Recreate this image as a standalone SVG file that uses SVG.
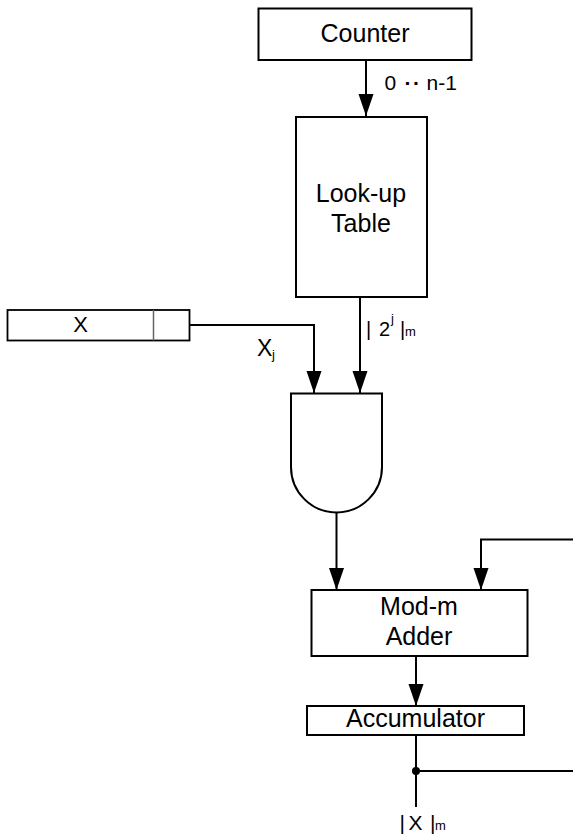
<svg xmlns="http://www.w3.org/2000/svg" width="573" height="835" viewBox="0 0 573 835">
  <style>
    .box { fill: #fff; stroke: #000; stroke-width: 2; }
    .wire { fill: none; stroke: #000; stroke-width: 2; }
    .lbl { font-family: "Liberation Sans", Arial, sans-serif; fill: #000; }
    .big { font-size: 25px; text-anchor: middle; }
  </style>
  <defs>
    <marker id="arrow" markerUnits="userSpaceOnUse" markerWidth="22" markerHeight="16" refX="22" refY="7.5" orient="auto">
      <path d="M0,0 L22,7.5 L0,15 Z" fill="#000"/>
    </marker>
  </defs>

  <rect width="573" height="835" fill="#fff"/>

  <!-- connectors -->
  <g id="connectors">
    <line class="wire" x1="366" y1="60" x2="366" y2="116" marker-end="url(#arrow)"/>
    <path class="wire" d="M173,325 H314 V393" marker-end="url(#arrow)"/>
    <line class="wire" x1="360" y1="297" x2="360" y2="393" marker-end="url(#arrow)"/>
    <line class="wire" x1="336.5" y1="513" x2="336.5" y2="590" marker-end="url(#arrow)"/>
    <path class="wire" d="M574,539.5 H481 V590" marker-end="url(#arrow)"/>
    <line class="wire" x1="416" y1="656" x2="416" y2="706" marker-end="url(#arrow)"/>
    <line class="wire" x1="416" y1="735" x2="416" y2="807"/>
    <line class="wire" x1="416" y1="771" x2="574" y2="771"/>
    <circle cx="416" cy="771" r="4" fill="#000"/>
  </g>

  <!-- counter -->
  <g id="counter">
    <rect class="box" x="258.5" y="8.5" width="213" height="51.5"/>
    <text class="lbl big" x="365" y="42">Counter</text>
  </g>

  <!-- index range label -->
  <g id="range-label">
    <text class="lbl" font-size="21" y="90"><tspan x="384.5">0</tspan><tspan x="404.5" font-weight="bold">·</tspan><tspan x="413" font-weight="bold">·</tspan><tspan x="426.5">n-1</tspan></text>
  </g>

  <!-- look-up table -->
  <g id="lut">
    <rect class="box" x="296" y="117" width="131" height="180"/>
    <text class="lbl big" x="361" y="202">Look-up</text>
    <text class="lbl big" x="361" y="232">Table</text>
  </g>

  <!-- LUT output label -->
  <g id="lut-label">
    <text class="lbl" font-size="20" y="336"><tspan x="366">|</tspan><tspan x="379">2</tspan><tspan x="391" y="323" font-size="13">j</tspan><tspan x="400" y="336">|</tspan><tspan x="405" font-size="13">m</tspan></text>
  </g>

  <!-- X register -->
  <g id="x-register">
    <rect x="7.5" y="310" width="182" height="30.5" fill="#fff" stroke="#000" stroke-width="1.8"/>
    <line x1="153.5" y1="310" x2="153.5" y2="340.5" stroke="#666" stroke-width="1.5"/>
    <text class="lbl" font-size="22" x="80.5" y="332" text-anchor="middle">X</text>
  </g>

  <!-- bit label -->
  <g id="bit-label">
    <text class="lbl" font-size="23" y="356"><tspan x="257">X</tspan><tspan x="272" y="358.5" font-size="13">j</tspan></text>
  </g>

  <!-- AND gate -->
  <g id="and-gate">
    <path class="box" d="M291,393.5 H382 V467 A45.5,45.5 0 0 1 291,467 Z"/>
  </g>

  <!-- mod-m adder -->
  <g id="adder">
    <rect class="box" x="311.5" y="590" width="216" height="66"/>
    <text class="lbl big" x="419" y="615">Mod-m</text>
    <text class="lbl big" x="419" y="645">Adder</text>
  </g>

  <!-- accumulator -->
  <g id="accumulator">
    <rect class="box" x="307" y="706" width="217" height="29"/>
    <text class="lbl big" x="415.5" y="727">Accumulator</text>
  </g>

  <!-- result label -->
  <g id="result-label">
    <text class="lbl" font-size="21" y="829.5"><tspan x="399.5">|</tspan><tspan x="408.5">X</tspan><tspan x="430">|</tspan><tspan x="435" font-size="13">m</tspan></text>
  </g>
</svg>
